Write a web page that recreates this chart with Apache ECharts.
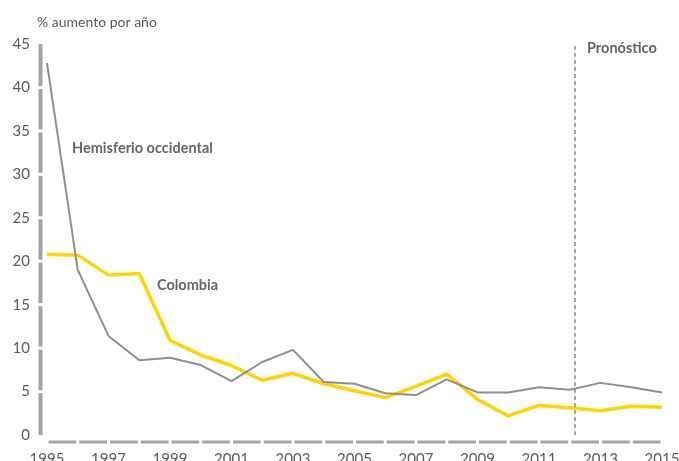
<!DOCTYPE html>
<html>
<head>
<meta charset="utf-8">
<script src="https://cdn.jsdelivr.net/npm/echarts@6/dist/echarts.min.js"></script>
<style>
  html, body { margin: 0; padding: 0; background: #fff; }
  #chart { width: 679px; height: 461px; }
</style>
</head>
<body>
<div id="chart"></div>
<script>
// Annual increase, 1995–2015 (forecast from 2012 on)
const years = [1995, 1996, 1997, 1998, 1999, 2000, 2001, 2002, 2003, 2004, 2005,
               2006, 2007, 2008, 2009, 2010, 2011, 2012, 2013, 2014, 2015];
const hemisferio = [42.8, 19.0, 11.4, 8.6, 8.9, 8.05, 6.2, 8.4, 9.8, 6.1, 5.9,
                    4.8, 4.6, 6.4, 4.9, 4.9, 5.5, 5.2, 6.0, 5.5, 4.9];
const colombia = [20.8, 20.7, 18.4, 18.6, 10.9, 9.2, 8.0, 6.3, 7.1, 5.9, 5.1,
                  4.3, 5.6, 7.0, 4.1, 2.2, 3.4, 3.15, 2.8, 3.3, 3.2];
const yTicks = [0, 5, 10, 15, 20, 25, 30, 35, 40, 45];
const forecastStart = 2012.16;

const FONT = 'Lato';
const TEXT = '#5a5a5a';
const AXIS_GREY = '#a3a3a3';

const pairs = (vals) => years.map((y, i) => [y, vals[i]]);

const chart = echarts.init(document.getElementById('chart'), null, { renderer: 'canvas' });

chart.setOption({
  animation: false,
  backgroundColor: '#fff',
  textStyle: { fontFamily: FONT },
  grid: { left: 47, right: 17, top: 44, bottom: 26, containLabel: false, outerBoundsMode: 'none' },
  xAxis: {
    type: 'value',
    min: years[0],
    max: years[years.length - 1],
    interval: 1,
    axisLine: { show: false },
    axisTick: { show: false },
    splitLine: { show: false },
    axisLabel: {
      color: TEXT,
      fontFamily: FONT,
      fontSize: 15,
      margin: 17,
      hideOverlap: false,
      formatter: (v) => ((v - years[0]) % 2 === 0 ? String(v) : '')
    }
  },
  yAxis: {
    type: 'value',
    min: yTicks[0],
    max: yTicks[yTicks.length - 1],
    interval: 5,
    axisLine: { show: false },
    axisTick: { show: false },
    splitLine: { show: false },
    axisLabel: { color: TEXT, fontFamily: FONT, fontSize: 15, margin: 17 }
  },
  series: [
    {
      name: 'Colombia',
      type: 'line',
      data: pairs(colombia),
      symbol: 'none',
      lineStyle: { color: '#ffd400', width: 3.5 },
      z: 2
    },
    {
      name: 'Hemisferio occidental',
      type: 'line',
      data: pairs(hemisferio),
      symbol: 'none',
      lineStyle: { color: '#8e8e8e', width: 2 },
      z: 3,
      markLine: {
        silent: true,
        symbol: 'none',
        label: { show: false },
        lineStyle: { color: '#8a8a8a', width: 1.5, type: [4, 3] },
        data: [{ xAxis: forecastStart }]
      }
    }
  ]
});

// Segmented axis bars, broken at every tick / year position, plus annotations
function drawAxisBars() {
  const els = [];
  const gap = 1.5;
  const yBarX = chart.convertToPixel({ xAxisIndex: 0 }, years[0]) - 6.5;
  for (let i = 0; i < yTicks.length - 1; i++) {
    const a = chart.convertToPixel({ yAxisIndex: 0 }, yTicks[i]);
    const b = chart.convertToPixel({ yAxisIndex: 0 }, yTicks[i + 1]);
    els.push({
      type: 'line',
      shape: { x1: yBarX, y1: a - (i === 0 ? 0 : gap), x2: yBarX, y2: b + (i === yTicks.length - 2 ? 0 : gap) },
      style: { stroke: AXIS_GREY, lineWidth: 4 },
      silent: true
    });
  }
  const xBarY = chart.convertToPixel({ yAxisIndex: 0 }, 0) + 7;
  for (let i = 0; i < years.length - 1; i++) {
    const a = chart.convertToPixel({ xAxisIndex: 0 }, years[i]);
    const b = chart.convertToPixel({ xAxisIndex: 0 }, years[i + 1]);
    els.push({
      type: 'line',
      shape: { x1: a + gap, y1: xBarY, x2: b - gap, y2: xBarY },
      style: { stroke: AXIS_GREY, lineWidth: 3 },
      silent: true
    });
  }
  const note = (text, x, y) => ({
    type: 'text', x: x, y: y, silent: true,
    style: { text: text, fill: '#666', font: 'bold 14.5px ' + FONT, verticalAlign: 'middle' }
  });
  els.push(
    { type: 'text', x: 37, y: 22, silent: true,
      style: { text: '% aumento por año', fill: TEXT, font: '14px ' + FONT, verticalAlign: 'middle' } },
    note('Hemisferio occidental', 72, 148),
    note('Colombia', 157, 285),
    note('Pronóstico', 587, 48)
  );
  chart.setOption({ graphic: els });
}
drawAxisBars();
</script>
</body>
</html>
